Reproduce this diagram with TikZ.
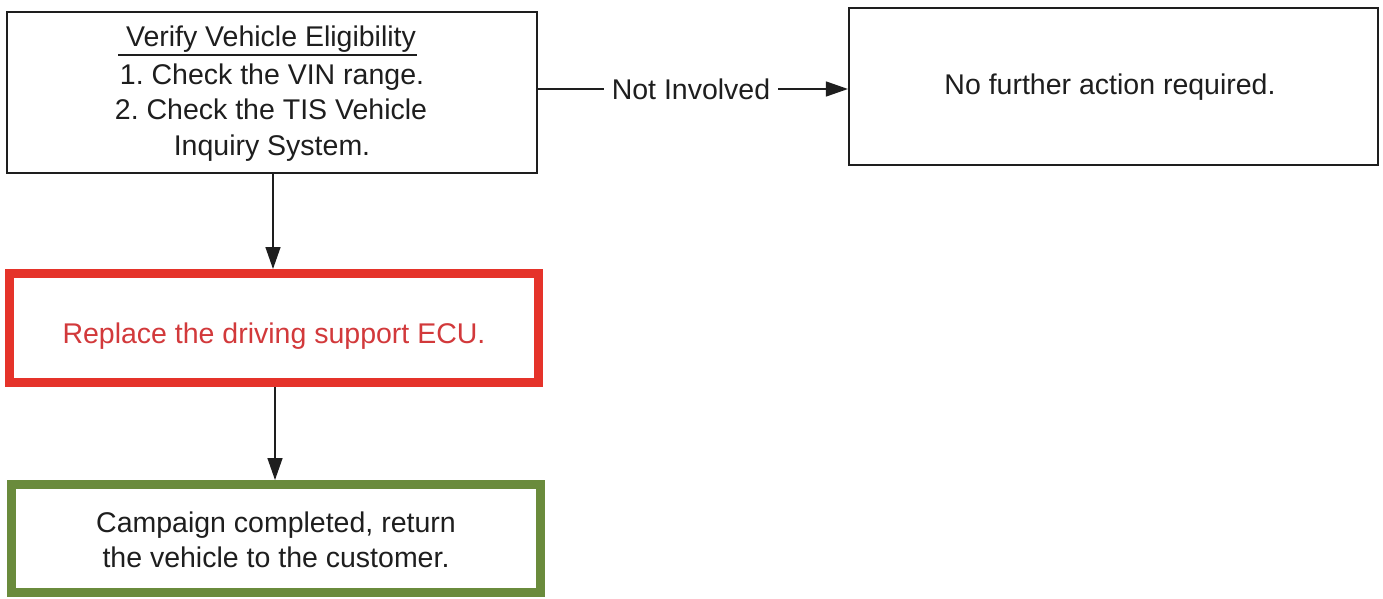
\documentclass[tikz,border=0pt]{standalone}
\usepackage{fontspec}
\setmainfont{Liberation Sans}
\frenchspacing
\usetikzlibrary{arrows.meta}
\definecolor{boxred}{HTML}{E5332A}
\definecolor{txtred}{HTML}{D2393B}
\definecolor{boxgreen}{HTML}{6A8B3C}
\definecolor{ink}{HTML}{1E1E1E}
\tikzset{
  plainbox/.style={draw=ink, line width=2.2pt, rectangle, inner sep=0pt},
  thickbox/.style={rectangle, line width=9pt, inner sep=0pt, minimum width=529pt},
  txt/.style={anchor=base, inner sep=0pt, font=\fontsize{28.5}{36}\selectfont, text=ink},
  conn/.style={draw=ink, line width=1.4pt},
  tip/.style={-{Triangle[length=22pt,width=15pt]}}
}
\begin{document}
\begin{tikzpicture}[x=1pt,y=-1pt]
\useasboundingbox[fill=white] (0,0) rectangle (1383,599);
% boxes
\node[plainbox, minimum width=530pt, minimum height=161pt] (b1) at (272,92.5) {};
\node[plainbox, minimum width=529pt, minimum height=157pt] (b2) at (1113.5,86.5) {};
\node[thickbox, draw=boxred, minimum height=109pt] (b3) at (274,328) {};
\node[thickbox, draw=boxgreen, minimum height=108pt] (b4) at (276,538.5) {};
% texts
\node[txt] (t1) at (271,47) {Verify Vehicle Eligibility};
\coordinate (r1) at (118,55);
\coordinate (r2) at (417,55);
\draw[ink, line width=1.3pt] (r1) -- (r2);
\node[txt] (t2) at (272,85) {1. Check the VIN range.};
\node[txt] (t3) at (271,120) {2. Check the TIS Vehicle};
\node[txt] (t4) at (272,155) {Inquiry System.};
\node[txt] (t5) at (1110,95) {No further action required.};
\node[txt, text=txtred] (t6) at (274,343) {Replace the driving support ECU.};
\node[txt] (t7) at (276,532) {Campaign completed, return};
\node[txt] (t8) at (276,567) {the vehicle to the customer.};
% connectors
\coordinate (x1) at (273,0);
\coordinate (x2) at (275,0);
\node[inner sep=0pt, inner xsep=8pt, font=\fontsize{28.5}{36}\selectfont, text=ink] (lbl) at (691,89) {Not Involved};
\draw[conn] (b1.east |- lbl) -- (lbl.west);
\draw[conn, tip] (lbl.east) -- (lbl -| b2.west);
\draw[conn, tip] (b1.south -| x1) -- (b3.north -| x1);
\draw[conn, tip] (b3.south -| x2) -- (b4.north -| x2);
\end{tikzpicture}
\end{document}
